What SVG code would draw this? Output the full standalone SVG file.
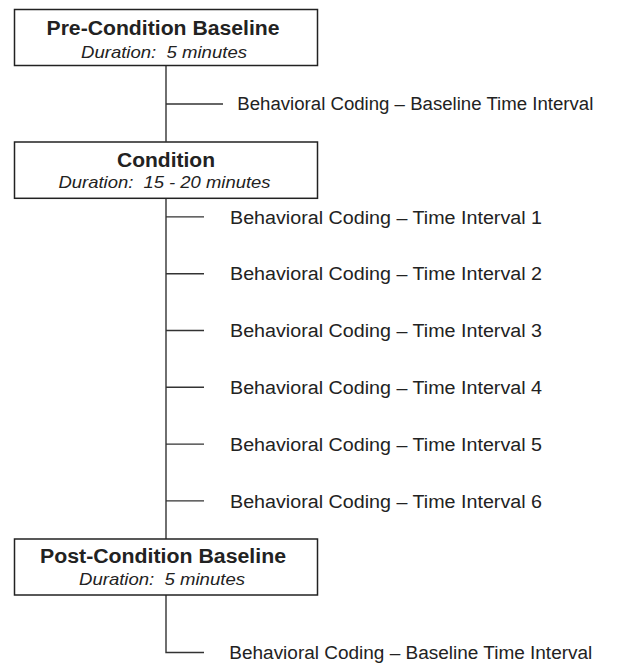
<svg xmlns="http://www.w3.org/2000/svg" width="628" height="664" viewBox="0 0 628 664">
<style>
.box{fill:#fff;stroke:#222;stroke-width:1.5}
.ln{stroke:#333;stroke-width:1.4;fill:none}
.t{font-family:"Liberation Sans",Arial,sans-serif;font-weight:bold;font-size:20px;fill:#222;text-anchor:middle}
.s{font-family:"Liberation Sans",Arial,sans-serif;font-style:italic;font-size:17px;fill:#222;text-anchor:middle;white-space:pre}
.b{font-family:"Liberation Sans",Arial,sans-serif;font-size:18px;fill:#222}
</style>
<rect width="628" height="664" fill="#fff"/>
<g id="connectors">
<path class="ln" d="M166 65.7V141.7"/>
<path class="ln" d="M166 104H223"/>
<path class="ln" d="M166 198.3V539"/>
<path class="ln" d="M166 216.9H204M166 273.7H204M166 330.5H204M166 387.3H204M166 444.1H204M166 500.9H204"/>
<path class="ln" d="M166 595V652.5H204"/>
</g>
<g id="pre">
<rect class="box" x="14.5" y="9.5" width="303" height="56"/>
<text class="t" x="163" y="35.3" textLength="233" lengthAdjust="spacingAndGlyphs">Pre-Condition Baseline</text>
<text class="s" x="164" y="58" textLength="166" lengthAdjust="spacingAndGlyphs" xml:space="preserve">Duration:  5 minutes</text>
</g>
<g id="cond">
<rect class="box" x="14.5" y="142" width="303" height="56.3"/>
<text class="t" x="166" y="166.7" textLength="98" lengthAdjust="spacingAndGlyphs">Condition</text>
<text class="s" x="164.5" y="188.3" textLength="212" lengthAdjust="spacingAndGlyphs" xml:space="preserve">Duration:  15 - 20 minutes</text>
</g>
<g id="post">
<rect class="box" x="14.5" y="539" width="303" height="56"/>
<text class="t" x="163" y="562.5" textLength="246" lengthAdjust="spacingAndGlyphs">Post-Condition Baseline</text>
<text class="s" x="162" y="585" textLength="166" lengthAdjust="spacingAndGlyphs" xml:space="preserve">Duration:  5 minutes</text>
</g>
<g id="labels">
<text class="b" x="237.3" y="110.3" textLength="356" lengthAdjust="spacingAndGlyphs">Behavioral Coding – Baseline Time Interval</text>
<text class="b" x="230" y="223.6" textLength="312" lengthAdjust="spacingAndGlyphs">Behavioral Coding – Time Interval 1</text>
<text class="b" x="230" y="280.4" textLength="312" lengthAdjust="spacingAndGlyphs">Behavioral Coding – Time Interval 2</text>
<text class="b" x="230" y="337.2" textLength="312" lengthAdjust="spacingAndGlyphs">Behavioral Coding – Time Interval 3</text>
<text class="b" x="230" y="394" textLength="312" lengthAdjust="spacingAndGlyphs">Behavioral Coding – Time Interval 4</text>
<text class="b" x="230" y="450.8" textLength="312" lengthAdjust="spacingAndGlyphs">Behavioral Coding – Time Interval 5</text>
<text class="b" x="230" y="507.6" textLength="312" lengthAdjust="spacingAndGlyphs">Behavioral Coding – Time Interval 6</text>
<text class="b" x="229.3" y="659" textLength="363" lengthAdjust="spacingAndGlyphs">Behavioral Coding – Baseline Time Interval</text>
</g>
</svg>
